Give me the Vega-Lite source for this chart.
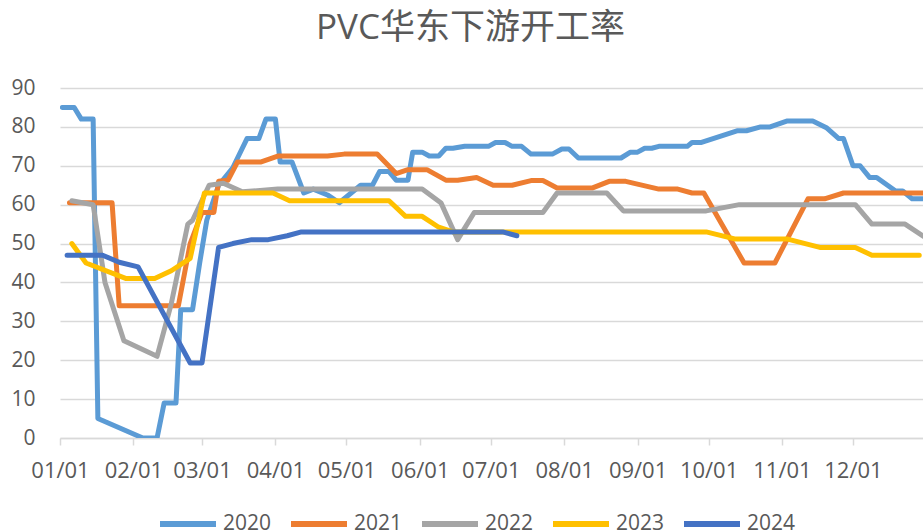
{
  "$schema": "https://vega.github.io/schema/vega-lite/v6.json",
  "autosize": {"type": "none"},
  "width": 863,
  "height": 350,
  "padding": {"left": 60, "top": 88, "right": 0, "bottom": 93},
  "background": "white",
  "title": {"text": "PVC华东下游开工率", "anchor": "middle", "frame": "group", "dx": -21, "offset": 3, "baseline": "alphabetic", "font": "Open Sans, Noto Sans CJK SC", "fontSize": 35, "fontWeight": "normal", "color": "#595959"},
  "config": {"view": {"stroke": null}},
  "datasets": {
    "rows": [
      {"date":"2020-01-02","series":"2020","value":85},{"date":"2020-01-07","series":"2020","value":85},{"date":"2020-01-10","series":"2020","value":82},{"date":"2020-01-15","series":"2020","value":82},{"date":"2020-01-17","series":"2020","value":5},{"date":"2020-02-05","series":"2020","value":0},{"date":"2020-02-11","series":"2020","value":0},{"date":"2020-02-14","series":"2020","value":9},{"date":"2020-02-19","series":"2020","value":9},{"date":"2020-02-21","series":"2020","value":33},{"date":"2020-02-26","series":"2020","value":33},{"date":"2020-02-29","series":"2020","value":45},{"date":"2020-03-03","series":"2020","value":56},{"date":"2020-03-08","series":"2020","value":65},{"date":"2020-03-14","series":"2020","value":69.5},{"date":"2020-03-20","series":"2020","value":77},{"date":"2020-03-25","series":"2020","value":77},{"date":"2020-03-28","series":"2020","value":82},{"date":"2020-04-01","series":"2020","value":82},{"date":"2020-04-03","series":"2020","value":71},{"date":"2020-04-08","series":"2020","value":71},{"date":"2020-04-13","series":"2020","value":63},{"date":"2020-04-17","series":"2020","value":64},{"date":"2020-04-23","series":"2020","value":62.5},{"date":"2020-04-28","series":"2020","value":60.5},{"date":"2020-05-03","series":"2020","value":63},{"date":"2020-05-07","series":"2020","value":65},{"date":"2020-05-12","series":"2020","value":65},{"date":"2020-05-15","series":"2020","value":68.5},{"date":"2020-05-19","series":"2020","value":68.5},{"date":"2020-05-22","series":"2020","value":66.3},{"date":"2020-05-27","series":"2020","value":66.3},{"date":"2020-05-29","series":"2020","value":73.5},{"date":"2020-06-02","series":"2020","value":73.5},{"date":"2020-06-05","series":"2020","value":72.5},{"date":"2020-06-09","series":"2020","value":72.5},{"date":"2020-06-12","series":"2020","value":74.5},{"date":"2020-06-15","series":"2020","value":74.5},{"date":"2020-06-20","series":"2020","value":75},{"date":"2020-06-30","series":"2020","value":75},{"date":"2020-07-03","series":"2020","value":76},{"date":"2020-07-07","series":"2020","value":76},{"date":"2020-07-10","series":"2020","value":75},{"date":"2020-07-14","series":"2020","value":75},{"date":"2020-07-18","series":"2020","value":73},{"date":"2020-07-27","series":"2020","value":73},{"date":"2020-07-31","series":"2020","value":74.3},{"date":"2020-08-03","series":"2020","value":74.3},{"date":"2020-08-07","series":"2020","value":72},{"date":"2020-08-25","series":"2020","value":72},{"date":"2020-08-29","series":"2020","value":73.5},{"date":"2020-09-01","series":"2020","value":73.5},{"date":"2020-09-04","series":"2020","value":74.5},{"date":"2020-09-07","series":"2020","value":74.5},{"date":"2020-09-10","series":"2020","value":75},{"date":"2020-09-22","series":"2020","value":75},{"date":"2020-09-24","series":"2020","value":76},{"date":"2020-09-28","series":"2020","value":76},{"date":"2020-10-13","series":"2020","value":79},{"date":"2020-10-17","series":"2020","value":79},{"date":"2020-10-23","series":"2020","value":80},{"date":"2020-10-27","series":"2020","value":80},{"date":"2020-11-03","series":"2020","value":81.5},{"date":"2020-11-14","series":"2020","value":81.5},{"date":"2020-11-20","series":"2020","value":79.7},{"date":"2020-11-25","series":"2020","value":77},{"date":"2020-11-27","series":"2020","value":77},{"date":"2020-12-01","series":"2020","value":70},{"date":"2020-12-04","series":"2020","value":70},{"date":"2020-12-08","series":"2020","value":67},{"date":"2020-12-11","series":"2020","value":67},{"date":"2020-12-19","series":"2020","value":63.5},{"date":"2020-12-22","series":"2020","value":63.5},{"date":"2020-12-26","series":"2020","value":61.5},{"date":"2020-12-31","series":"2020","value":61.5},
      {"date":"2020-01-05","series":"2021","value":60.5},{"date":"2020-01-23","series":"2021","value":60.5},{"date":"2020-01-26","series":"2021","value":34},{"date":"2020-02-20","series":"2021","value":34},{"date":"2020-02-25","series":"2021","value":50},{"date":"2020-03-01","series":"2021","value":58},{"date":"2020-03-06","series":"2021","value":58},{"date":"2020-03-08","series":"2021","value":66},{"date":"2020-03-12","series":"2021","value":66.3},{"date":"2020-03-16","series":"2021","value":71},{"date":"2020-03-26","series":"2021","value":71},{"date":"2020-04-02","series":"2021","value":72.5},{"date":"2020-04-23","series":"2021","value":72.5},{"date":"2020-04-30","series":"2021","value":73},{"date":"2020-05-14","series":"2021","value":73},{"date":"2020-05-22","series":"2021","value":68},{"date":"2020-05-27","series":"2021","value":69},{"date":"2020-06-04","series":"2021","value":69},{"date":"2020-06-12","series":"2021","value":66.3},{"date":"2020-06-17","series":"2021","value":66.3},{"date":"2020-06-25","series":"2021","value":67},{"date":"2020-07-02","series":"2021","value":65},{"date":"2020-07-10","series":"2021","value":65},{"date":"2020-07-18","series":"2021","value":66.2},{"date":"2020-07-23","series":"2021","value":66.2},{"date":"2020-07-29","series":"2021","value":64.3},{"date":"2020-08-13","series":"2021","value":64.3},{"date":"2020-08-20","series":"2021","value":66},{"date":"2020-08-27","series":"2021","value":66},{"date":"2020-09-10","series":"2021","value":64},{"date":"2020-09-18","series":"2021","value":64},{"date":"2020-09-24","series":"2021","value":63},{"date":"2020-09-29","series":"2021","value":63},{"date":"2020-10-16","series":"2021","value":45},{"date":"2020-10-29","series":"2021","value":45},{"date":"2020-11-12","series":"2021","value":61.5},{"date":"2020-11-19","series":"2021","value":61.5},{"date":"2020-11-27","series":"2021","value":63},{"date":"2020-12-31","series":"2021","value":63},
      {"date":"2020-01-06","series":"2022","value":61},{"date":"2020-01-15","series":"2022","value":60},{"date":"2020-01-20","series":"2022","value":40},{"date":"2020-01-28","series":"2022","value":25},{"date":"2020-02-11","series":"2022","value":21},{"date":"2020-02-17","series":"2022","value":34.5},{"date":"2020-02-24","series":"2022","value":55},{"date":"2020-02-26","series":"2022","value":56},{"date":"2020-03-04","series":"2022","value":65},{"date":"2020-03-10","series":"2022","value":65.5},{"date":"2020-03-18","series":"2022","value":63.3},{"date":"2020-04-02","series":"2022","value":64},{"date":"2020-06-02","series":"2022","value":64},{"date":"2020-06-10","series":"2022","value":60.4},{"date":"2020-06-17","series":"2022","value":51},{"date":"2020-06-24","series":"2022","value":58},{"date":"2020-07-23","series":"2022","value":58},{"date":"2020-07-29","series":"2022","value":63},{"date":"2020-08-19","series":"2022","value":63},{"date":"2020-08-26","series":"2022","value":58.4},{"date":"2020-09-30","series":"2022","value":58.4},{"date":"2020-10-14","series":"2022","value":60},{"date":"2020-12-02","series":"2022","value":60},{"date":"2020-12-09","series":"2022","value":55},{"date":"2020-12-23","series":"2022","value":55},{"date":"2020-12-31","series":"2022","value":51.8},
      {"date":"2020-01-06","series":"2023","value":50},{"date":"2020-01-12","series":"2023","value":45},{"date":"2020-01-29","series":"2023","value":41},{"date":"2020-02-10","series":"2023","value":41},{"date":"2020-02-17","series":"2023","value":43},{"date":"2020-02-25","series":"2023","value":46.2},{"date":"2020-03-02","series":"2023","value":63},{"date":"2020-03-31","series":"2023","value":63},{"date":"2020-04-07","series":"2023","value":61},{"date":"2020-05-19","series":"2023","value":61},{"date":"2020-05-26","series":"2023","value":57},{"date":"2020-06-02","series":"2023","value":57},{"date":"2020-06-09","series":"2023","value":54.2},{"date":"2020-06-15","series":"2023","value":53},{"date":"2020-09-30","series":"2023","value":53},{"date":"2020-10-12","series":"2023","value":51.2},{"date":"2020-11-03","series":"2023","value":51.2},{"date":"2020-11-17","series":"2023","value":49},{"date":"2020-12-02","series":"2023","value":49},{"date":"2020-12-09","series":"2023","value":47},{"date":"2020-12-29","series":"2023","value":47},
      {"date":"2020-01-04","series":"2024","value":47},{"date":"2020-01-19","series":"2024","value":47},{"date":"2020-01-26","series":"2024","value":45.2},{"date":"2020-02-03","series":"2024","value":44},{"date":"2020-02-25","series":"2024","value":19.3},{"date":"2020-03-01","series":"2024","value":19.3},{"date":"2020-03-08","series":"2024","value":49},{"date":"2020-03-14","series":"2024","value":50},{"date":"2020-03-22","series":"2024","value":51},{"date":"2020-03-29","series":"2024","value":51},{"date":"2020-04-06","series":"2024","value":52},{"date":"2020-04-12","series":"2024","value":53},{"date":"2020-07-06","series":"2024","value":53},{"date":"2020-07-12","series":"2024","value":52}
    ]
  },
  "data": {"name": "rows"},
  "mark": {"type": "line", "strokeWidth": 5, "strokeCap": "round", "strokeJoin": "round", "clip": true},
  "encoding": {
    "x": {
      "field": "date", "type": "temporal",
      "scale": {"type": "utc", "domain": [{"year": 2020, "month": 1, "date": 1, "utc": true}, {"year": 2020, "month": 12, "date": 30, "hours": 14, "utc": true}]},
      "axis": {
        "title": null, "format": "%m/%d", "tickCount": {"interval": "month", "step": 1},
        "grid": false, "domainColor": "#D9D9D9", "domainWidth": 1.5, "tickColor": "#D9D9D9", "tickWidth": 1.5, "tickSize": 7,
        "labelFont": "Open Sans", "labelFontSize": 22, "labelColor": "#595959", "labelBaseline": "alphabetic", "labelPadding": 32,
        "labelFlush": false, "labelOverlap": false, "labelBound": false
      }
    },
    "y": {
      "field": "value", "type": "quantitative",
      "scale": {"domain": [0, 90], "nice": false, "zero": true},
      "axis": {
        "title": null, "values": [0,10,20,30,40,50,60,70,80,90], "grid": true, "gridColor": "#D9D9D9", "gridWidth": 1.5,
        "domain": false, "ticks": false, "labelPadding": 25,
        "labelFont": "Open Sans", "labelFontSize": 21, "labelColor": "#595959"
      }
    },
    "color": {
      "field": "series", "type": "nominal",
      "scale": {"domain": ["2020","2021","2022","2023","2024"], "range": ["#5B9BD5","#ED7D31","#A5A5A5","#FFC000","#4472C4"]},
      "legend": {
        "title": null, "orient": "none", "legendX": 97, "legendY": 405, "direction": "horizontal", "columns": 5,
        "symbolType": "stroke", "symbolSize": 3136, "symbolStrokeWidth": 6, "columnPadding": 7, "labelOffset": 4,
        "labelFont": "Open Sans", "labelFontSize": 21, "labelColor": "#595959", "padding": 0
      }
    }
  }
}
